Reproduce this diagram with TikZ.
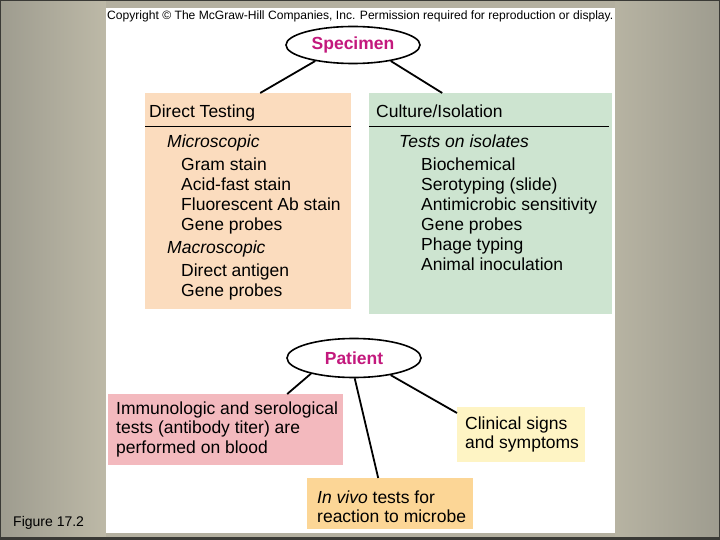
\documentclass[tikz,border=0pt]{standalone}
\usepackage{fontspec}
\setmainfont{Liberation Sans}
\usetikzlibrary{shapes.geometric, calc}
\definecolor{mhPeach}{HTML}{FBDCBE}
\definecolor{mhGreen}{HTML}{CDE4D0}
\definecolor{mhPink}{HTML}{F3B9BE}
\definecolor{mhYellow}{HTML}{FEF4C4}
\definecolor{mhOrange}{HTML}{FCD696}
\definecolor{mhMagenta}{HTML}{C3197D}
\definecolor{mhGreyL}{HTML}{BDB9A7}
\definecolor{mhGreyD}{HTML}{9E9C8F}
\definecolor{mhDark}{HTML}{3A3A36}
\tikzset{
  bubble/.style = {ellipse, draw=black, line width=1.6pt, fill=white, text=mhMagenta,
                   minimum width=134pt, minimum height=37pt, inner sep=0pt,
                   font=\fontsize{17.5}{20}\selectfont\bfseries},
  panel/.style  = {rectangle, anchor=north west, inner sep=0pt},
  head/.style   = {anchor=base west, inner sep=0pt, font=\fontsize{17.5}{20}\selectfont},
  item/.style   = {head},
  sub/.style    = {head, font=\fontsize{17.5}{20}\selectfont\itshape},
  link/.style   = {line width=1.8pt, black},
  rule/.style   = {line width=1.6pt, black},
}

\begin{document}
\begin{tikzpicture}[x=1pt, y=-1pt]
  \useasboundingbox (0,0) rectangle (720,540);
  % slide background
  \shade[left color=mhGreyD, right color=mhGreyL] (0,0) rectangle (106,540);
  \shade[left color=mhGreyL!80!mhGreyD, right color=mhGreyD] (615,0) rectangle (720,540);
  \fill[mhGreyL!70!mhGreyD] (106,0) rectangle (615,8);
  \fill[mhGreyL!70!mhGreyD] (106,533) rectangle (615,540);
  \fill[mhDark] (0,536.5) rectangle (720,540);
  \draw[mhDark, line width=1.2pt] (0.6,0.6) rectangle (719.4,539.4);
  \fill[white] (106,8) rectangle (615,533);
  \node[anchor=base west, inner sep=0pt, font=\fontsize{12.1}{14}\selectfont] (copyright) at (107,20)
    {Copyright © The McGraw-Hill Companies, Inc. Permission required for reproduction or display.};
  \node[anchor=base west, inner sep=0pt, font=\fontsize{14}{16}\selectfont] (figlabel) at (13,526.5) {Figure 17.2};

  % specimen branch
  \node[bubble] (specimen) at (353,45) {Specimen};
  \node[panel, fill=mhPeach, minimum width=206pt, minimum height=216pt] (direct) at (145,93) {};
  \node[panel, fill=mhGreen, minimum width=243pt, minimum height=221pt] (culture) at (369,93) {};
  \draw[link] (specimen.203) -- ([xshift=12pt]direct.north);
  \draw[link] (specimen.337) -- ([xshift=-48.5pt]culture.north);
  \draw[rule] ([yshift=-33.5pt]direct.north west) -- ([yshift=-33.5pt]direct.north east);
  \draw[rule] ([yshift=-33.5pt]culture.north west) -- ([xshift=-3pt, yshift=-33.5pt]culture.north east);
  \node[head] (dthead) at (149,118) {Direct Testing};
  \node[head] (cihead) at (376,118) {Culture/Isolation};
  \node[sub] (micro) at (167,148) {Microscopic};
  \foreach \t [count=\i] in {Gram stain, Acid-fast stain, Fluorescent Ab stain, Gene probes}
    \node[item] (mic\i) at (181,{151.2+19.8*\i}) {\t};
  \node[sub] (macro) at (167,253) {Macroscopic};
  \foreach \t [count=\i] in {Direct antigen, Gene probes}
    \node[item] (mac\i) at (181,{256.7+19.8*\i}) {\t};
  \node[sub] (isol) at (399,148) {Tests on isolates};
  \foreach \t [count=\i] in {Biochemical, Serotyping (slide), Antimicrobic sensitivity,
                             Gene probes, Phage typing, Animal inoculation}
    \node[item] (iso\i) at (421,{151.2+19.8*\i}) {\t};

  % patient branch
  \node[bubble, minimum height=39pt] (patient) at (354,358) {Patient};
  \node[panel, fill=mhPink, minimum width=235pt, minimum height=71pt] (pink) at (108,394) {};
  \node[panel, fill=mhYellow, minimum width=128pt, minimum height=55pt] (clinical) at (457,407) {};
  \node[panel, fill=mhOrange, minimum width=166pt, minimum height=51pt] (invivo) at (307,478) {};
  \draw[link] (patient.200) -- ([xshift=61.5pt]pink.north);
  \draw[link] (patient.272) -- ([xshift=-12pt]invivo.north);
  \draw[link] (patient.335) -- ([yshift=-6pt]clinical.north west);
  \foreach \t [count=\i] in {Immunologic and serological, tests (antibody titer) are, performed on blood}
    \node[item] (imm\i) at (116,{394.9+19.4*\i}) {\t};
  \node[item] (cli1) at (465,429.3) {Clinical signs};
  \node[item] (cli2) at (465,448.5) {and symptoms};
  \node[item] (viv1) at (317,503.3) {\textit{In vivo} tests for};
  \node[item] (viv2) at (317,522.5) {reaction to microbe};
\end{tikzpicture}
\end{document}
